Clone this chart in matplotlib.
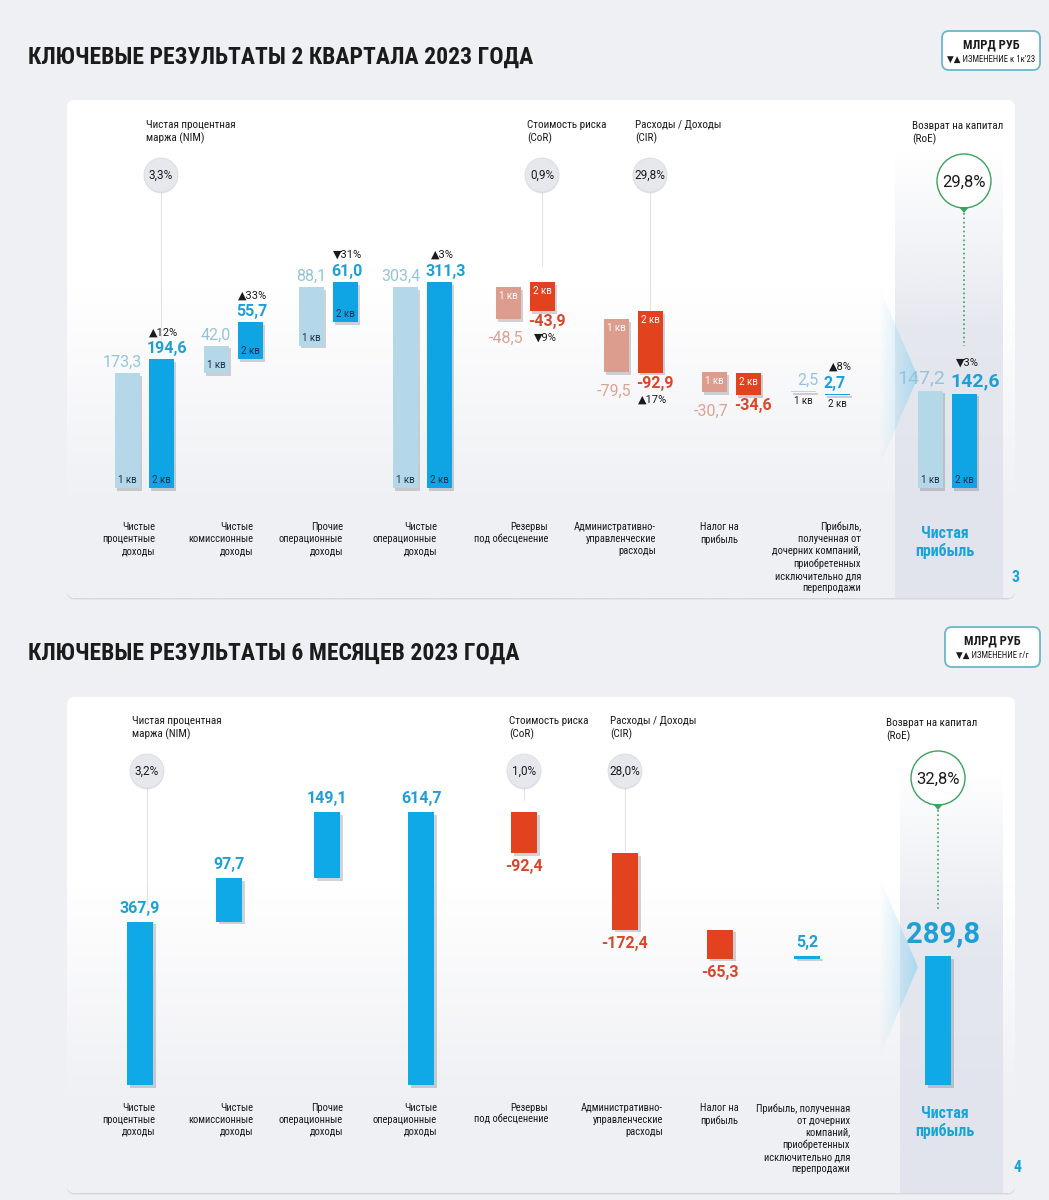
import numpy as np
import matplotlib.pyplot as plt
from matplotlib import font_manager
from matplotlib.colors import to_rgba
from matplotlib.patches import FancyBboxPatch, Circle, Polygon
import matplotlib.patheffects as pe

plt.rcParams['font.family'] = ['Roboto', 'DejaVu Sans']
avail = {f.name for f in font_manager.fontManager.ttflist}
narrow = [n for n in ['Roboto Condensed', 'Liberation Sans Narrow', 'Open Sans Condensed'] if n in avail]
NARROW = [narrow[0], 'DejaVu Sans'] if narrow else ['Roboto', 'DejaVu Sans']
TITLE_SIZE = 17 if narrow else 15.5
LABEL_SIZE = 7.6 if narrow else 7

W, H = 1049, 1200
PAGE = '#eff0f4'
DARK = '#1b1b1b'

# ---------------- data ----------------
kinds = ['inc', 'inc', 'inc', 'total', 'dec', 'dec', 'dec', 'inc', 'total']
q1_2023 = [173.3, 42.0, 88.1, 303.4, -48.5, -79.5, -30.7, 2.5, 147.2]
q2_2023 = [194.6, 55.7, 61.0, 311.3, -43.9, -92.9, -34.6, 2.7, 142.6]
q2_change = ['▲12%', '▲33%', '▼31%', '▲3%', '▼9%', '▲17%', '', '▲8%', '▼3%']
h1_2023 = [367.9, 97.7, 149.1, 614.7, -92.4, -172.4, -65.3, 5.2, 289.8]

labels_q = ["Чистые\nпроцентные\nдоходы", "Чистые\nкомиссионные\nдоходы",
            "Прочие\nоперационные\nдоходы", "Чистые\nоперационные\nдоходы",
            "Резервы\nпод обесценение", "Административно-\nуправленческие\nрасходы",
            "Налог на\nприбыль",
            "Прибыль,\nполученная от\nдочерних компаний,\nприобретенных\nисключительно для\nперепродажи",
            "Чистая\nприбыль"]
labels_h = labels_q[:7] + [
    "Прибыль, полученная\nот дочерних\nкомпаний,\nприобретенных\nисключительно для\nперепродажи",
    "Чистая\nприбыль"]

ratio_names = ['Чистая процентная\nмаржа (NIM)', 'Стоимость риска\n(CoR)',
               'Расходы / Доходы\n(CIR)', 'Возврат на капитал\n(RoE)']
ratio_cat = [0, 4, 5, 8]
ratios_q2 = ['3,3%', '0,9%', '29,8%', '29,8%']
ratios_h1 = ['3,2%', '1,0%', '28,0%', '32,8%']

# ---------------- layout (pixels) ----------------
cat_x_q = [144, 233, 328, 422, 525, 633, 731, 820, 947]
cat_x_h = [140, 229, 327, 421, 524, 625, 720, 807, 938]
label_ha = ['right'] * 6 + ['left', 'right']
label_dx_q = [11, 20, 15, 15, 23, 23, -31, 41]
label_dx_h = [15, 24, 16, 16, 24, 38, -20, 43]


def fmt(v):
    return f"{v:.1f}".replace(".", ",")


def waterfall(vals):
    bottoms, heights, run = [], [], 0.0
    for v, kind in zip(vals, kinds):
        if kind == 'total':
            bottoms.append(0.0)
            heights.append(v)
            run = v
        elif kind == 'inc':
            bottoms.append(run)
            heights.append(v)
            run += v
        else:
            run += v
            bottoms.append(run)
            heights.append(-v)
    return np.array(bottoms), np.array(heights)


fig = plt.figure(figsize=(W / 100, H / 100), dpi=100)
fig.patch.set_facecolor(PAGE)
bg = fig.add_axes([0, 0, 1, 1])
bg.axis('off')


def px_axes(x0, y0, x1, y1):
    a = fig.add_axes([x0 / W, 1 - y1 / H, (x1 - x0) / W, (y1 - y0) / H])
    a.axis('off')
    a.set_zorder(2)
    return a


def grad(x0, x1, y0, y1, stops, z, clip=None, horizontal=False):
    t = np.linspace(0, 1, 300)
    pos = [s[0] for s in stops]
    cols = np.array([to_rgba(s[1], s[2]) for s in stops])
    arr = np.stack([np.interp(t, pos, cols[:, i]) for i in range(4)], axis=-1)
    arr = arr[None, :, :] if horizontal else arr[:, None, :]
    im = bg.imshow(arr, extent=(x0, x1, y1, y0), aspect='auto', zorder=z,
                   interpolation='bilinear')
    if clip is not None:
        im.set_clip_path(clip)


def card(y0, y1):
    box = FancyBboxPatch((67, y0), 948, y1 - y0, boxstyle='round,pad=0,rounding_size=8',
                         fc='white', ec='none', zorder=1,
                         path_effects=[pe.SimplePatchShadow(offset=(0, -1), shadow_rgbFace='#b9bdc8',
                                                            alpha=0.5), pe.Normal()])
    bg.add_patch(box)
    grad(67, 1015, y0, y1, [(0, 'white', 1), (0.38, 'white', 1), (0.82, PAGE, 1), (1, PAGE, 1)],
         z=1.1, clip=box)


def unit_box(x, y, w, h, note):
    box = FancyBboxPatch((x, y), w, h, boxstyle='round,pad=0,rounding_size=7',
                         fc='white', ec='#6cb6c9', lw=1.3, zorder=3)
    bg.add_patch(box)
    bg.text(x + w / 2, y + 14, 'МЛРД РУБ', ha='center', va='center', fontsize=9,
            fontweight='bold', color=DARK, zorder=4, family=NARROW)
    bg.text(x + w / 2, y + 28, '▼▲ ИЗМЕНЕНИЕ ' + note, ha='center', va='center', fontsize=6.3,
            color=DARK, zorder=4, family=NARROW)


def ratio(cx, cy, name, val, line_end, green=False):
    if green:
        bg.add_patch(Circle((cx, cy), 27, fc='white', ec='#3aa35c', lw=1.0, zorder=4))
        bg.add_patch(Polygon([(cx - 5, cy + 26), (cx + 5, cy + 26), (cx, cy + 32)],
                             fc='#3aa35c', ec='none', zorder=4))
        bg.plot([cx, cx], [cy + 32, line_end], ls=':', lw=1.2, color='#3aa35c', zorder=4)
        bg.text(cx, cy + 1, val, ha='center', va='center', fontsize=12, color=DARK, zorder=5)
        bg.text(cx - 52, cy - 60, name, ha='left', va='top', fontsize=LABEL_SIZE + 0.4,
                color=DARK, linespacing=1.3, zorder=5, family=NARROW)
    else:
        bg.plot([cx, cx], [cy + 17, line_end], lw=0.7, color='#dfe1e6', zorder=3)
        bg.add_patch(Circle((cx, cy), 17, fc='#e7e8ed', ec='#dadce2', lw=0.6, zorder=4,
                            path_effects=[pe.SimplePatchShadow(offset=(0, -1), alpha=0.15),
                                          pe.Normal()]))
        bg.text(cx, cy, val, ha='center', va='center', fontsize=8.5, color=DARK, zorder=5)
        bg.text(cx - 15, cy - 55, name, ha='left', va='top', fontsize=LABEL_SIZE + 0.4,
                color=DARK, linespacing=1.3, zorder=5, family=NARROW)


def np_column(x0, x1, y0, y1, tip_y):
    grad(x0, x1, y0, y1, [(0, '#e3e6ee', 0), (0.4, '#e3e6ee', 0.9), (1, '#e1e4ec', 1)], z=1.5)
    tri = Polygon([(879, tip_y - 90), (918, tip_y), (879, tip_y + 90)], fc='none', ec='none')
    bg.add_patch(tri)
    grad(879, 918, tip_y - 90, tip_y + 90, [(0, '#a5ddf5', 0), (1, '#7fd0f3', 0.6)],
         z=1.6, clip=tri, horizontal=True)


bar_shadow = [pe.SimplePatchShadow(offset=(2, -2), shadow_rgbFace='#4a5060', alpha=0.25),
              pe.Normal()]

# ================= top panel: Q2 2023 =================
bg.text(28, 57, 'КЛЮЧЕВЫЕ РЕЗУЛЬТАТЫ 2 КВАРТАЛА 2023 ГОДА', ha='left', va='center',
        fontsize=TITLE_SIZE, fontweight='bold', color=DARK, family=NARROW)
unit_box(942, 31, 98, 39, "к 1к'23")
card(100, 598)
np_column(895, 1003, 150, 598, 377)

ax1 = px_axes(67, 100, 1015, 600)
k1 = 206 / 311.3
ax1.set_xlim(67, 1015)
ax1.set_ylim(-(600 - 488) / k1, (488 - 100) / k1)

b1, hq1 = waterfall(q1_2023)
b2, hq2 = waterfall(q2_2023)
xq = np.array(cat_x_q, dtype=float)
red = np.array([k == 'dec' for k in kinds])
ax1.bar(xq - 17, hq1, bottom=b1, width=25, color=np.where(red, '#dc9d8f', '#b4d8e7'),
        path_effects=bar_shadow, zorder=2)
ax1.bar(xq + 17, hq2, bottom=b2, width=25, color=np.where(red, '#e2421e', '#0fa5e5'),
        path_effects=bar_shadow, zorder=2)

for i, kind in enumerate(kinds):
    size = 14 if i == 8 else 11.5
    for x, b, h, v, q, col in ((xq[i] - 17, b1[i], hq1[i], q1_2023[i], '1 кв',
                                '#dba394' if kind == 'dec' else '#95c4da'),
                               (xq[i] + 17, b2[i], hq2[i], q2_2023[i], '2 кв',
                                '#d9472b' if kind == 'dec' else '#1ea0d6')):
        first = q == '1 кв'
        bold = 'normal' if first else 'bold'
        tx, ha = (x + 15, 'right') if first else (x - 14, 'left')
        if kind == 'dec':
            ax1.annotate(fmt(v), (tx, b), xytext=(0, -12 if first else -3),
                         textcoords='offset pixels', ha=ha, va='top', fontsize=size, color=col,
                         fontweight=bold)
            ax1.annotate(q, (x, b + h), xytext=(0, -4), textcoords='offset pixels',
                         ha='center', va='top', fontsize=7, color='white')
        else:
            ax1.annotate(fmt(v), (tx, b + h), xytext=(0, 3), textcoords='offset pixels',
                         ha=ha, va='bottom', fontsize=size, color=col, fontweight=bold,
                         zorder=5)
            if i == 7:
                ax1.annotate(q, (x, b), xytext=(0, -4), textcoords='offset pixels',
                             ha='center', va='top', fontsize=7, color=DARK)
            else:
                ax1.annotate(q, (x, b), xytext=(0, 3), textcoords='offset pixels',
                             ha='center', va='bottom', fontsize=7, color='#1e2b4a')
    if q2_change[i]:
        if kind == 'dec':
            ax1.annotate(q2_change[i], (xq[i] + 20, b2[i]), xytext=(0, -22),
                         textcoords='offset pixels', ha='center', va='top', fontsize=8, color=DARK)
        else:
            ax1.annotate(q2_change[i], (xq[i] + 20, b2[i] + hq2[i]),
                         xytext=(0, 26 if i == 8 else 22), textcoords='offset pixels',
                         ha='center', va='bottom', fontsize=8, color=DARK)

for i in range(8):
    bg.text(cat_x_q[i] + label_dx_q[i], 522, labels_q[i], ha=label_ha[i], va='top',
            fontsize=LABEL_SIZE, linespacing=1.25, color=DARK, zorder=3, family=NARROW)
bg.text(cat_x_q[8] - 2, 526, labels_q[8], ha='center', va='top', fontsize=11.5,
        fontweight='bold', color='#1aa3d9', linespacing=1.15, zorder=3, family=NARROW)
bg.text(1016, 577, '3', ha='center', va='center', fontsize=11.5, fontweight='bold',
        color='#1aa3d9', family=NARROW)

line_end_q = [350, 265, 320, 488 - q2_2023[8] * k1 - 48]
for j, c in enumerate(ratio_cat):
    ratio(cat_x_q[c] + 17, 181 if j == 3 else 175, ratio_names[j], ratios_q2[j],
          line_end_q[j], green=(j == 3))

# ================= bottom panel: 6M 2023 =================
bg.text(28, 653, 'КЛЮЧЕВЫЕ РЕЗУЛЬТАТЫ 6 МЕСЯЦЕВ 2023 ГОДА', ha='left', va='center',
        fontsize=TITLE_SIZE, fontweight='bold', color=DARK, family=NARROW)
unit_box(945, 627, 95, 40, 'г/г')
card(697, 1193)
np_column(900, 1003, 770, 1193, 967)

ax2 = px_axes(67, 697, 1015, 1195)
k2 = 273 / 614.7
ax2.set_xlim(67, 1015)
ax2.set_ylim(-(1195 - 1085) / k2, (1085 - 697) / k2)

bh, hh = waterfall(h1_2023)
xh = np.array(cat_x_h, dtype=float)
ax2.bar(xh, hh, bottom=bh, width=26, color=np.where(red, '#e2421e', '#0fa9e8'),
        path_effects=bar_shadow, zorder=2)

for i, kind in enumerate(kinds):
    if kind == 'dec':
        ax2.annotate(fmt(h1_2023[i]), (xh[i], bh[i]), xytext=(0, -6), textcoords='offset pixels',
                     ha='center', va='top', fontsize=11.5, color='#d9472b', fontweight='bold')
    else:
        ax2.annotate(fmt(h1_2023[i]), (xh[i] + (5 if i == 8 else 0), bh[i] + hh[i]),
                     xytext=(0, 8 if i == 8 else 6), textcoords='offset pixels', ha='center',
                     va='bottom', fontsize=21 if i == 8 else 11.5, color='#1ea0d6',
                     fontweight='bold')

for i in range(8):
    bg.text(cat_x_h[i] + label_dx_h[i], 1103, labels_h[i], ha=label_ha[i], va='top',
            fontsize=LABEL_SIZE, linespacing=1.25, color=DARK, zorder=3, family=NARROW)
bg.text(cat_x_h[8] + 7, 1106, labels_h[8], ha='center', va='top', fontsize=11.5,
        fontweight='bold', color='#1aa3d9', linespacing=1.15, zorder=3, family=NARROW)
bg.text(1018, 1168, '4', ha='center', va='center', fontsize=11.5, fontweight='bold',
        color='#1aa3d9', family=NARROW)

line_end_h = [905, 800, 850, 1085 - h1_2023[8] * k2 - 46]
for j, c in enumerate(ratio_cat):
    ratio(cat_x_h[c] + (7 if j == 0 else 0), 778 if j == 3 else 771, ratio_names[j],
          ratios_h1[j], line_end_h[j], green=(j == 3))

bg.set_xlim(0, W)
bg.set_ylim(H, 0)
fig.savefig('out.png', dpi=100, facecolor=PAGE)
